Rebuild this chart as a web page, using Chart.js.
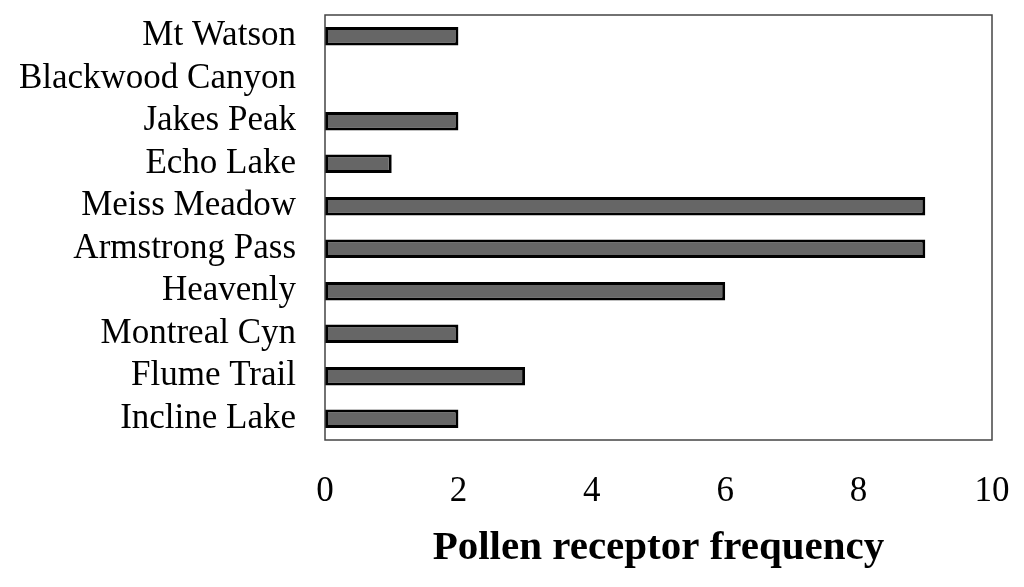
<!DOCTYPE html>
<html>
<head>
<meta charset="utf-8">
<script src="https://cdn.jsdelivr.net/npm/chart.js@4/dist/chart.umd.min.js"></script>
<style>
    html, body { margin: 0; padding: 0; background: #fff; }
    #wrap { width: 1024px; height: 587px; }
</style>
</head>
<body>
<div id="wrap"><canvas id="pollen"></canvas></div>
<script>
const sites = ['Mt Watson', 'Blackwood Canyon', 'Jakes Peak', 'Echo Lake', 'Meiss Meadow',
    'Armstrong Pass', 'Heavenly', 'Montreal Cyn', 'Flume Trail', 'Incline Lake'];
const frequency = [2, 0, 2, 1, 9, 9, 6, 2, 3, 2];
const xTicks = [0, 2, 4, 6, 8, 10];

// box round the plot area
const frameBox = {
    id: 'frameBox',
    afterDatasetsDraw(chart) {
        const { ctx, chartArea: a } = chart;
        ctx.save();
        ctx.strokeStyle = '#444';
        ctx.lineWidth = 1.5;
        ctx.strokeRect(a.left, a.top, a.right - a.left, a.bottom - a.top);
        ctx.restore();
    }
};

document.addEventListener('DOMContentLoaded', () => {
    const serif = "'Liberation Serif', 'Times New Roman', serif";
    new Chart(document.getElementById('pollen'), {
        type: 'bar',
        data: {
            labels: sites,
            datasets: [{
                data: frequency,
                backgroundColor: '#666666',
                borderColor: '#000000',
                borderWidth: 3,
                borderSkipped: false,
                categoryPercentage: 0.43,
                barPercentage: 1
            }]
        },
        options: {
            indexAxis: 'y',
            responsive: true,
            maintainAspectRatio: false,
            animation: false,
            layout: { padding: { top: 15, right: 32, left: 0, bottom: 0 } },
            plugins: { legend: { display: false }, tooltip: { enabled: false } },
            scales: {
                x: {
                    min: 0,
                    max: 10,
                    afterBuildTicks: (scale) => { scale.ticks = xTicks.map(v => ({ value: v })); },
                    afterFit: (scale) => {
                        scale.height = 147;
                        scale.paddingLeft = 0;
                        scale.paddingRight = 0;
                    },
                    grid: { display: false, drawTicks: false },
                    border: { display: false },
                    ticks: { color: '#000', padding: 31, font: { family: serif, size: 35 } },
                    title: {
                        display: true,
                        text: 'Pollen receptor frequency',
                        color: '#000',
                        padding: { top: 0, bottom: 14 },
                        font: { family: serif, size: 41, weight: 'bold' }
                    }
                },
                y: {
                    afterFit: (scale) => {
                        scale.width = 325;
                        scale.paddingTop = 0;
                        scale.paddingBottom = 0;
                    },
                    grid: { display: false, drawTicks: false },
                    border: { display: false },
                    ticks: { color: '#000', padding: 29, autoSkip: false, font: { family: serif, size: 35 } }
                }
            }
        },
        plugins: [frameBox]
    });
});
</script>
</body>
</html>
